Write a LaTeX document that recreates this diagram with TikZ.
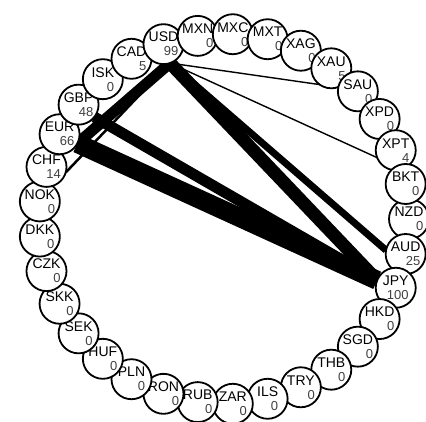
\documentclass[tikz,border=0pt]{standalone}
\usepackage{fontspec}
\setmainfont{Liberation Sans}
\usepackage{tikz}
\usetikzlibrary{calc, backgrounds}
\definecolor{ink}{HTML}{000000}
\definecolor{numgray}{HTML}{404040}
\newcommand{\codefnt}{\fontsize{14}{15}\selectfont}
\newcommand{\amt}[1]{{\fontsize{13}{14}\selectfont\color{numgray}#1}}

\begin{document}
\begin{tikzpicture}[x=1pt, y=-1pt, line join=round,
  cur/.style={circle, draw=ink, line width=1.8pt, fill=white, minimum size=40pt, inner sep=-4pt, align=right, font=\codefnt},
  link/.style={draw=ink, line cap=butt}]
\useasboundingbox (0,0) rectangle (426,422);
\begin{scope}[shift={(224,219)}]
\coordinate (ring) at (0,0);
% currencies, clockwise from the east
\node[cur] (nzd) at (0:185) {NZD\\[-1pt]\amt{0}};
\node[cur] (aud) at (10.91:185) {AUD\\[-1pt]\amt{25}};
\node[cur] (jpy) at (21.82:185) {JPY\\[-1pt]\amt{100}};
\node[cur] (hkd) at (32.73:185) {HKD\\[-1pt]\amt{0}};
\node[cur] (sgd) at (43.64:185) {SGD\\[-1pt]\amt{0}};
\node[cur] (thb) at (54.55:185) {THB\\[-1pt]\amt{0}};
\node[cur] (try) at (65.45:185) {TRY\\[-1pt]\amt{0}};
\node[cur] (ils) at (76.36:185) {ILS\\[-1pt]\amt{0}};
\node[cur] (zar) at (87.27:185) {ZAR\\[-1pt]\amt{0}};
\node[cur] (rub) at (98.18:185) {RUB\\[-1pt]\amt{0}};
\node[cur] (ron) at (109.09:185) {RON\\[-1pt]\amt{0}};
\node[cur] (pln) at (120:185) {PLN\\[-1pt]\amt{0}};
\node[cur] (huf) at (130.91:185) {HUF\\[-1pt]\amt{0}};
\node[cur] (sek) at (141.82:185) {SEK\\[-1pt]\amt{0}};
\node[cur] (skk) at (152.73:185) {SKK\\[-1pt]\amt{0}};
\node[cur] (czk) at (163.64:185) {CZK\\[-1pt]\amt{0}};
\node[cur] (dkk) at (174.55:185) {DKK\\[-1pt]\amt{0}};
\node[cur] (nok) at (185.45:185) {NOK\\[-1pt]\amt{0}};
\node[cur] (chf) at (196.36:185) {CHF\\[-1pt]\amt{14}};
\node[cur] (eur) at (207.27:185) {EUR\\[-1pt]\amt{66}};
\node[cur] (gbp) at (218.18:185) {GBP\\[-1pt]\amt{48}};
\node[cur] (isk) at (229.09:185) {ISK\\[-1pt]\amt{0}};
\node[cur] (cad) at (240:185) {CAD\\[-1pt]\amt{5}};
\node[cur] (usd) at (250.91:185) {USD\\[-1pt]\amt{99}};
\node[cur] (mxn) at (261.82:185) {MXN\\[-1pt]\amt{0}};
\node[cur] (mxc) at (272.73:185) {MXC\\[-1pt]\amt{0}};
\node[cur] (mxt) at (283.64:185) {MXT\\[-1pt]\amt{0}};
\node[cur] (xag) at (294.55:185) {XAG\\[-1pt]\amt{0}};
\node[cur] (xau) at (305.45:185) {XAU\\[-1pt]\amt{5}};
\node[cur] (sau) at (316.36:185) {SAU\\[-1pt]\amt{0}};
\node[cur] (xpd) at (327.27:185) {XPD\\[-1pt]\amt{0}};
\node[cur] (xpt) at (338.18:185) {XPT\\[-1pt]\amt{4}};
\node[cur] (bkt) at (349.09:185) {BKT\\[-1pt]\amt{0}};
\end{scope}

% flows, behind the ring
\begin{scope}[on background layer]
\draw[link, line width=19pt] ($(eur)!20pt!(ring)$) -- ($(jpy)!20pt!(ring)$);
\draw[link, line width=11pt] ($(gbp)!20pt!(ring)$) -- ($(jpy)!20pt!(ring)$);
\draw[link, line width=13pt] ($(usd)!20pt!(ring)$) -- ($(jpy)!20pt!(ring)$);
\draw[link, line width=11pt] ($(usd)!20pt!(ring)$) -- ($(eur)!20pt!(ring)$);
\draw[link, line width=7pt] ($(usd)!20pt!(ring)$) -- ($(aud)!20pt!(ring)$);
\draw[link, line width=2.5pt] ($(usd)!20pt!(ring)$) -- ($(chf)!20pt!(ring)$);
\draw[link, line width=1.4pt] ($(usd)!20pt!(ring)$) -- ($(xau)!20pt!(ring)$);
\draw[link, line width=1.4pt] ($(usd)!20pt!(ring)$) -- ($(xpt)!20pt!(ring)$);
\end{scope}
\end{tikzpicture}
\end{document}
